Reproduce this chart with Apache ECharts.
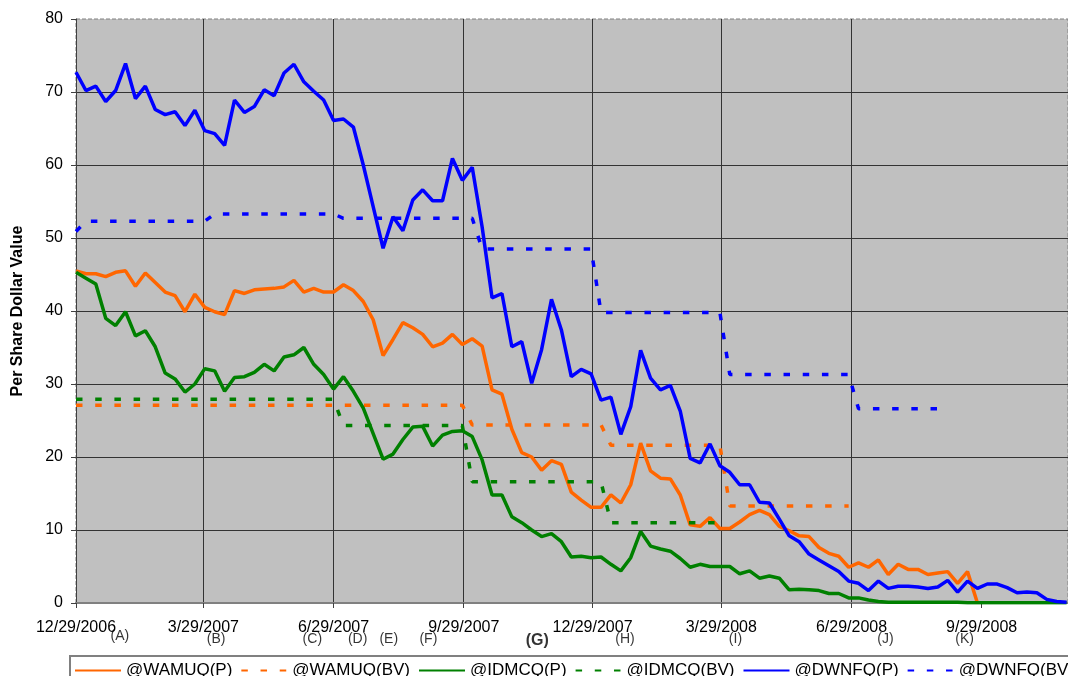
<!DOCTYPE html>
<html>
<head>
<meta charset="utf-8">
<script src="https://cdn.jsdelivr.net/npm/echarts@6/dist/echarts.min.js"></script>
<style>
html,body{margin:0;padding:0;background:#fff;}
#chart{width:1068px;height:676px;}
</style>
</head>
<body>
<div id="chart"></div>
<script>
// Weekly observation dates
const dates = [
'2006-12-29',
'2007-01-05','2007-01-12','2007-01-19','2007-01-26',
'2007-02-02','2007-02-09','2007-02-16','2007-02-23',
'2007-03-02','2007-03-09','2007-03-16','2007-03-23','2007-03-30',
'2007-04-06','2007-04-13','2007-04-20','2007-04-27',
'2007-05-04','2007-05-11','2007-05-18','2007-05-25',
'2007-06-01','2007-06-08','2007-06-15','2007-06-22','2007-06-29',
'2007-07-06','2007-07-13','2007-07-20','2007-07-27',
'2007-08-03','2007-08-10','2007-08-17','2007-08-24','2007-08-31',
'2007-09-07','2007-09-14','2007-09-21','2007-09-28',
'2007-10-05','2007-10-12','2007-10-19','2007-10-26',
'2007-11-02','2007-11-09','2007-11-16','2007-11-23','2007-11-30',
'2007-12-07','2007-12-14','2007-12-21','2007-12-28',
'2008-01-04','2008-01-11','2008-01-18','2008-01-25',
'2008-02-01','2008-02-08','2008-02-15','2008-02-22','2008-02-29',
'2008-03-07','2008-03-14','2008-03-21','2008-03-28',
'2008-04-04','2008-04-11','2008-04-18','2008-04-25',
'2008-05-02','2008-05-09','2008-05-16','2008-05-23','2008-05-30',
'2008-06-06','2008-06-13','2008-06-20','2008-06-27',
'2008-07-04','2008-07-11','2008-07-18','2008-07-25',
'2008-08-01','2008-08-08','2008-08-15','2008-08-22','2008-08-29',
'2008-09-05','2008-09-12','2008-09-19','2008-09-26',
'2008-10-03','2008-10-10','2008-10-17','2008-10-24','2008-10-31',
'2008-11-07','2008-11-14','2008-11-21','2008-11-28'
];

const wamuqP = [
45.5,45.1,45.1,44.7,45.3,45.5,43.4,45.2,43.9,42.6,
42.1,39.9,42.3,40.5,39.9,39.5,42.8,42.4,42.9,43.0,
43.1,43.3,44.2,42.6,43.1,42.6,42.6,43.6,42.8,41.3,
38.8,33.9,36.1,38.4,37.7,36.8,35.1,35.6,36.8,35.4,
36.2,35.2,29.2,28.6,23.8,20.6,20.0,18.2,19.5,19.0,
15.2,14.1,13.1,13.1,14.8,13.7,16.2,21.9,18.1,17.1,
17.0,14.8,10.7,10.5,11.7,10.2,10.2,11.1,12.1,12.7,
12.1,10.5,9.9,9.2,9.1,7.6,6.8,6.4,4.9,5.5,
4.9,5.9,3.9,5.3,4.6,4.6,3.9,4.1,4.3,2.7,
4.3,0.0
];
const wamuqBV = [
27.1,27.1,27.1,27.1,27.1,27.1,27.1,27.1,27.1,27.1,
27.1,27.1,27.1,27.1,27.1,27.1,27.1,27.1,27.1,27.1,
27.1,27.1,27.1,27.1,27.1,27.1,27.1,27.1,27.1,27.1,
27.1,27.1,27.1,27.1,27.1,27.1,27.1,27.1,27.1,27.1,
24.4,24.4,24.4,24.4,24.4,24.4,24.4,24.4,24.4,24.4,
24.4,24.4,24.4,24.4,21.6,21.6,21.6,21.6,21.6,21.6,
21.6,21.6,21.6,21.6,21.6,21.6,13.3,13.3,13.3,13.3,
13.3,13.3,13.3,13.3,13.3,13.3,13.3,13.3,13.3
];
const idmcqP = [
45.3,44.5,43.7,39.0,38.0,39.9,36.6,37.3,35.1,31.5,
30.7,28.9,30.0,32.1,31.8,29.0,30.9,31.0,31.6,32.7,
31.8,33.7,34.0,35.0,32.7,31.3,29.3,31.0,29.0,26.7,
23.2,19.7,20.4,22.4,24.1,24.2,21.5,23.0,23.5,23.6,
22.8,19.6,14.8,14.8,11.8,11.0,10.0,9.1,9.5,8.4,
6.3,6.4,6.2,6.3,5.3,4.4,6.2,9.8,7.8,7.4,
7.1,6.1,4.9,5.3,5.0,5.0,5.0,4.0,4.4,3.4,
3.7,3.4,1.8,1.9,1.8,1.7,1.3,1.3,0.7,0.7,
0.4,0.2,0.1,0.1,0.1,0.1,0.1,0.1,0.1,0.1,
0.05,0.05,0.05,0.05,0.05,0.05,0.05,0.05,0.05,0.05,
0.05
];
const idmcqBV = [
27.9,27.9,27.9,27.9,27.9,27.9,27.9,27.9,27.9,27.9,
27.9,27.9,27.9,27.9,27.9,27.9,27.9,27.9,27.9,27.9,
27.9,27.9,27.9,27.9,27.9,27.9,27.9,24.3,24.3,24.3,
24.3,24.3,24.3,24.3,24.3,24.3,24.3,24.3,24.3,24.3,
16.6,16.6,16.6,16.6,16.6,16.6,16.6,16.6,16.6,16.6,
16.6,16.6,16.6,16.6,11.0,11.0,11.0,11.0,11.0,11.0,
11.0,11.0,11.0,11.0,11.0,11.0
];
const dwnfqP = [
72.7,70.2,70.8,68.7,70.2,73.9,69.1,70.8,67.6,66.9,
67.3,65.4,67.5,64.7,64.3,62.7,68.9,67.2,68.0,70.3,
69.5,72.6,73.8,71.4,70.1,68.9,66.1,66.3,65.2,60.0,
54.3,48.6,52.9,51.0,55.2,56.6,55.1,55.1,60.9,57.9,
59.7,51.5,41.8,42.4,35.1,35.8,30.1,34.7,41.6,37.4,
31.0,32.0,31.4,27.8,28.2,23.1,26.9,34.6,30.8,29.2,
29.8,26.3,19.8,19.2,21.8,18.8,17.9,16.2,16.2,13.8,
13.7,11.5,9.2,8.4,6.7,5.9,5.1,4.3,3.0,2.7,
1.7,3.0,2.0,2.3,2.3,2.2,2.0,2.2,3.1,1.5,
3.0,2.0,2.6,2.6,2.1,1.4,1.5,1.4,0.5,0.2,
0.1
];
const dwnfqBV = [
50.9,52.3,52.3,52.3,52.3,52.3,52.3,52.3,52.3,52.3,
52.3,52.3,52.3,52.3,53.3,53.3,53.3,53.3,53.3,53.3,
53.3,53.3,53.3,53.3,53.3,53.3,53.3,52.7,52.7,52.7,
52.7,52.7,52.7,52.7,52.7,52.7,52.7,52.7,52.7,52.7,
52.7,48.5,48.5,48.5,48.5,48.5,48.5,48.5,48.5,48.5,
48.5,48.5,48.5,39.8,39.8,39.8,39.8,39.8,39.8,39.8,
39.8,39.8,39.8,39.8,39.8,39.8,31.3,31.3,31.3,31.3,
31.3,31.3,31.3,31.3,31.3,31.3,31.3,31.3,31.3,26.6,
26.6,26.6,26.6,26.6,26.6,26.6,26.6,26.6
];

const quarterTicks = ['2006-12-29','2007-03-29','2007-06-29','2007-09-29','2007-12-29','2008-03-29','2008-06-29','2008-09-29'];
const axisStart = '2006-12-29';
const axisEnd = '2008-11-29';
const yTicks = [0,10,20,30,40,50,60,70,80];

const eventLabels = ['(A)','(B)','(C)','(D)','(E)','(F)','(G)','(H)','(I)','(J)','(K)'];
const eventDates = ['2007-01-29','2007-04-07','2007-06-14','2007-07-16','2007-08-07','2007-09-04','2007-11-20','2008-01-21','2008-04-08','2008-07-23','2008-09-17'];
const eventLevels = [-4.5,-5.0,-5.0,-5.0,-5.0,-5.0,-5.1,-5.0,-5.0,-5.0,-5.0];
const eventBold = [false,false,false,false,false,false,true,false,false,false,false];

const seriesNames = ['@WAMUQ(P)','@WAMUQ(BV)','@IDMCQ(P)','@IDMCQ(BV)','@DWNFQ(P)','@DWNFQ(BV)'];

const FONT = '"Liberation Sans", Arial, sans-serif';
function toTs(s){ const p = s.split('-').map(Number); return new Date(p[0], p[1]-1, p[2]).getTime(); }
function pairs(arr){ return arr.map((v,i)=>[toTs(dates[i]), v == null ? '-' : v]); }
function fmtDate(v){ const d = new Date(v); return (d.getMonth()+1)+'/'+d.getDate()+'/'+d.getFullYear(); }

const ORANGE = '#FF6600', GREEN = '#008000', BLUE = '#0000FF';
const LW = 3.5;
const DASH = [6.5, 12.7];

function lineSeries(name, arr, color, dashed){
  return {
    name: name, type: 'line', data: pairs(arr),
    showSymbol: false, symbol: 'none', smooth: false,
    lineStyle: { color: color, width: LW, type: dashed ? DASH : 'solid', cap: 'butt' },
    itemStyle: { color: color },
    emphasis: { disabled: true },
    animation: false
  };
}

const chart = echarts.init(document.getElementById('chart'), null, { renderer: 'canvas' });
const option = {
  backgroundColor: '#ffffff',
  animation: false,
  textStyle: { fontFamily: FONT },
  grid: {
    left: 76, top: 19, right: 0, bottom: 73,
    show: true, backgroundColor: '#C0C0C0',
    borderColor: '#808080', borderWidth: 1, borderType: 'dashed',
    containLabel: false,
    outerBoundsMode: 'none'
  },
  legend: {
    left: 70, top: 656, width: 1300,
    orient: 'horizontal',
    padding: [6, 4, 10, 4],
    itemWidth: 46, itemHeight: 14, itemGap: 8,
    borderColor: '#808080', borderWidth: 2,
    backgroundColor: '#ffffff',
    itemStyle: { opacity: 0 },
    textStyle: { fontSize: 17, color: '#000', fontFamily: FONT },
    data: seriesNames,
    selectedMode: false
  },
  xAxis: {
    type: 'value',
    min: toTs(axisStart), max: toTs(axisEnd),
    axisLine: { show: true, lineStyle: { color: '#808080', width: 2 } },
    axisTick: { show: true, length: 5, customValues: quarterTicks.map(toTs), lineStyle: { color: '#404040', width: 1 } },
    axisLabel: {
      customValues: quarterTicks.map(toTs),
      formatter: fmtDate, fontSize: 16, color: '#000', margin: 17, fontFamily: FONT,
      hideOverlap: false
    },
    splitLine: { show: true, showMinLine: false, showMaxLine: false, lineStyle: { color: '#333333', width: 1 } }
  },
  yAxis: {
    type: 'value', min: yTicks[0], max: yTicks[yTicks.length-1], interval: 10,
    name: 'Per Share Dollar Value', nameLocation: 'middle', nameGap: 50, nameRotate: 90,
    nameMoveOverlap: false,
    nameTextStyle: { fontSize: 16, fontWeight: 'bold', color: '#000', fontFamily: FONT },
    axisLine: { show: true, lineStyle: { color: '#404040', width: 1 } },
    axisTick: { show: true, length: 5, lineStyle: { color: '#404040' } },
    axisLabel: { fontSize: 16, color: '#000', margin: 13, fontFamily: FONT },
    splitLine: { show: true, showMinLine: false, showMaxLine: false, lineStyle: { color: '#333333', width: 1 } }
  },
  series: [
    lineSeries(seriesNames[0], wamuqP, ORANGE, false),
    lineSeries(seriesNames[1], wamuqBV, ORANGE, true),
    lineSeries(seriesNames[2], idmcqP, GREEN, false),
    lineSeries(seriesNames[3], idmcqBV, GREEN, true),
    lineSeries(seriesNames[4], dwnfqP, BLUE, false),
    lineSeries(seriesNames[5], dwnfqBV, BLUE, true),
    {
      name: 'events', type: 'scatter', clip: false, silent: true,
      symbol: 'circle', symbolSize: 1,
      itemStyle: { color: 'rgba(0,0,0,0)' },
      data: eventLabels.map((lab, i) => ({
        name: lab, value: [toTs(eventDates[i]), eventLevels[i]],
        label: { fontWeight: eventBold[i] ? 'bold' : 'normal', fontSize: eventBold[i] ? 16 : 14 }
      })),
      label: { show: true, position: 'inside', formatter: p => p.name, color: '#000', fontSize: 14, fontFamily: FONT },
      emphasis: { disabled: true },
      z: 10, animation: false
    }
  ]
};
chart.setOption(option);
</script>
</body>
</html>
